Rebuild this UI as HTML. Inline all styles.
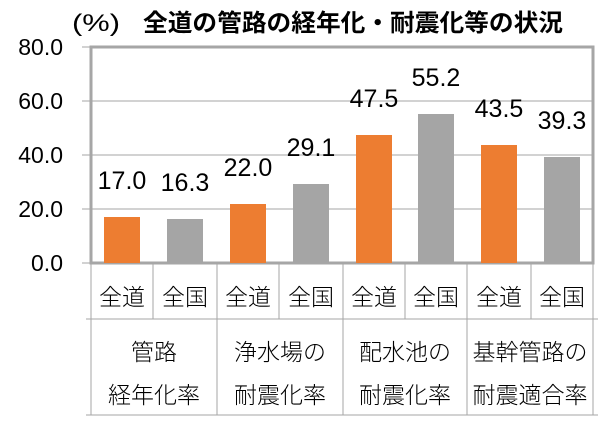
<!DOCTYPE html><html><head><meta charset="utf-8"><style>html,body{margin:0;padding:0;background:#fff}svg{display:block}</style></head><body>
<svg width="601" height="422" xmlns="http://www.w3.org/2000/svg" font-family="Liberation Sans, Noto Sans CJK JP, sans-serif">
<g stroke="#a6a6a6" stroke-width="1">
<line x1="82" y1="101" x2="593" y2="101"/><line x1="82" y1="155" x2="593" y2="155"/><line x1="82" y1="209" x2="593" y2="209"/>
<line x1="82" y1="47" x2="90" y2="47"/><line x1="82" y1="263" x2="90" y2="263"/>
</g>
<rect x="91" y="47" width="502" height="216" fill="none" stroke="#a6a6a6" stroke-width="3"/>
<g fill="#ed7d31"><rect x="104" y="217" width="36" height="46"/><rect x="230" y="204" width="36" height="59"/><rect x="356" y="135" width="36" height="128"/><rect x="481" y="145" width="36" height="118"/></g>
<g fill="#a5a5a5"><rect x="167" y="219" width="36" height="44"/><rect x="293" y="184" width="36" height="79"/><rect x="418" y="114" width="36" height="149"/><rect x="544" y="157" width="36" height="106"/></g>
<g font-size="25" text-anchor="middle" fill="#000">
<text x="122" y="189">17.0</text><text x="185" y="191">16.3</text><text x="248" y="176">22.0</text><text x="311" y="156">29.1</text>
<text x="374" y="107">47.5</text><text x="436" y="86">55.2</text><text x="499" y="117">43.5</text><text x="562" y="129">39.3</text></g>
<g font-size="23" text-anchor="end"><text x="63" y="55">80.0</text><text x="63" y="109">60.0</text><text x="63" y="163">40.0</text><text x="63" y="217">20.0</text><text x="63" y="271">0.0</text></g>
<text x="72" y="31" font-size="24" textLength="48" lengthAdjust="spacingAndGlyphs">(%)</text>
<text x="143" y="31" font-size="24" font-weight="bold" textLength="420" lengthAdjust="spacingAndGlyphs">全道の管路の経年化・耐震化等の状況</text>
<g stroke="#a6a6a6" stroke-width="1">
<line x1="91" y1="263" x2="91" y2="415"/><line x1="153" y1="263" x2="153" y2="319"/><line x1="217" y1="263" x2="217" y2="415"/><line x1="279" y1="263" x2="279" y2="319"/><line x1="343" y1="263" x2="343" y2="415"/><line x1="405" y1="263" x2="405" y2="319"/><line x1="467" y1="263" x2="467" y2="415"/><line x1="531" y1="263" x2="531" y2="319"/><line x1="593" y1="263" x2="593" y2="415"/>
<line x1="86" y1="319" x2="598" y2="319"/><line x1="86" y1="415" x2="598" y2="415"/>
</g>
<g font-size="23" text-anchor="middle" font-weight="300">
<text x="122" y="305">全道</text><text x="185" y="305">全国</text><text x="248" y="305">全道</text><text x="311" y="305">全国</text><text x="374" y="305">全道</text><text x="436" y="305">全国</text><text x="499" y="305">全道</text><text x="562" y="305">全国</text>
<text x="154" y="360">管路</text><text x="154" y="403">経年化率</text>
<text x="280" y="360">浄水場の</text><text x="280" y="403">耐震化率</text>
<text x="405" y="360">配水池の</text><text x="405" y="403">耐震化率</text>
<text x="530" y="360">基幹管路の</text><text x="530" y="403">耐震適合率</text>
</g>
</svg></body></html>
